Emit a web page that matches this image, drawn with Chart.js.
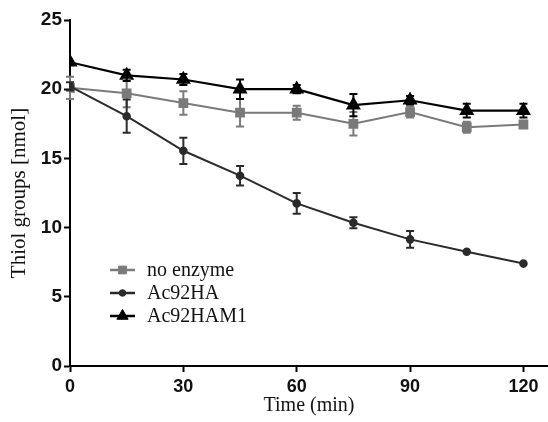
<!DOCTYPE html>
<html>
<head>
<meta charset="utf-8">
<script src="https://cdn.jsdelivr.net/npm/chart.js@4"></script>
<style>
html,body{margin:0;padding:0;background:#fff;}
#wrap{width:548px;height:422px;position:relative;}
</style>
</head>
<body>
<div id="wrap"><canvas id="c" width="548" height="422"></canvas></div>
<script>
const times = [0, 15, 30, 45, 60, 75, 90, 105, 120];
const noEnzyme = [20.1, 19.7, 19.0, 18.3, 18.3, 17.5, 18.35, 17.25, 17.45];
const noEnzymeErr = [0.8, 1.0, 0.85, 1.0, 0.5, 0.85, 0.4, 0.4, 0.2];
const ac92HA = [20.2, 18.05, 15.55, 13.75, 11.75, 10.35, 9.15, 8.25, 7.4];
const ac92HAErr = [0.3, 1.2, 0.95, 0.7, 0.75, 0.4, 0.6, 0.2, 0.1];
const ac92HAM1 = [21.95, 21.0, 20.7, 20.0, 20.0, 18.85, 19.2, 18.45, 18.45];
const ac92HAM1Err = [0.2, 0.4, 0.4, 0.7, 0.3, 0.8, 0.3, 0.5, 0.5];
const xTicks = [0, 30, 60, 90, 120];
const yTicks = [0, 5, 10, 15, 20, 25];
const seriesNames = ['no enzyme', 'Ac92HA', 'Ac92HAM1'];

const GRAY = '#7a7a7a', DARK = '#2b2b2b', BLACK = '#000000';

function pts(vals){ return times.map((t,i)=>({x:t, y:vals[i]})); }

const errorBars = {
  id: 'errorBars',
  afterDatasetsDraw(chart){
    const ctx = chart.ctx, xs = chart.scales.x, ys = chart.scales.y;
    chart.data.datasets.forEach((ds) => {
      const errs = ds.errors; if (!errs) return;
      ctx.save();
      ctx.strokeStyle = ds.borderColor; ctx.lineWidth = 2;
      ds.data.forEach((p, i) => {
        const e = errs[i]; if (!e || e < 0.25) return;
        const x = xs.getPixelForValue(p.x);
        const y1 = ys.getPixelForValue(p.y + e), y2 = ys.getPixelForValue(p.y - e);
        ctx.beginPath();
        ctx.moveTo(x, y1); ctx.lineTo(x, y2);
        ctx.moveTo(x-4, y1); ctx.lineTo(x+4, y1);
        ctx.moveTo(x-4, y2); ctx.lineTo(x+4, y2);
        ctx.stroke();
      });
      ctx.restore();
    });
  }
};

const customLegend = {
  id: 'customLegend',
  afterDraw(chart){
    const ctx = chart.ctx;
    const x0 = 110, x1 = 135, tx = 147;
    const rows = [270, 293, 316];
    chart.data.datasets.forEach((ds, i) => {
      const y = rows[i];
      ctx.save();
      ctx.strokeStyle = ds.borderColor; ctx.lineWidth = 2.5;
      ctx.beginPath(); ctx.moveTo(x0, y); ctx.lineTo(x1, y); ctx.stroke();
      ctx.fillStyle = ds.pointBackgroundColor; ctx.strokeStyle = ds.pointBorderColor; ctx.lineWidth = 1;
      Chart.helpers.drawPoint(ctx, {pointStyle: ds.pointStyle, radius: ds.pointRadius, borderWidth: 1}, (x0+x1)/2, y);
      ctx.fillStyle = '#111';
      ctx.font = '20px "Liberation Serif"';
      ctx.textBaseline = 'middle';
      ctx.fillText(seriesNames[i], tx, y + 1);
      ctx.restore();
    });
  }
};

new Chart(document.getElementById('c'), {
  type: 'line',
  data: {
    datasets: [
      {label: seriesNames[0], data: pts(noEnzyme), errors: noEnzymeErr, borderColor: GRAY, backgroundColor: GRAY,
       pointBackgroundColor: GRAY, pointBorderColor: GRAY, pointStyle: 'rect', pointRadius: 5.5, borderWidth: 2, order: 3},
      {label: seriesNames[1], data: pts(ac92HA), errors: ac92HAErr, borderColor: DARK, backgroundColor: DARK,
       pointBackgroundColor: DARK, pointBorderColor: DARK, pointStyle: 'circle', pointRadius: 3.3, borderWidth: 2, order: 2},
      {label: seriesNames[2], data: pts(ac92HAM1), errors: ac92HAM1Err, borderColor: BLACK, backgroundColor: BLACK,
       pointBackgroundColor: BLACK, pointBorderColor: BLACK, pointStyle: 'triangle', pointRadius: 6.5, borderWidth: 2.2, order: 1}
    ]
  },
  options: {
    responsive: false,
    animation: false,
    layout: {autoPadding: false, padding: {top: 20, right: 0, left: 0, bottom: 0}},
    plugins: {legend: {display: false}, tooltip: {enabled: false}},
    elements: {line: {tension: 0}},
    scales: {
      x: {
        type: 'linear', min: 0, max: 126.5,
        afterBuildTicks: s => { s.ticks = xTicks.map(v => ({value: v})); },
        afterFit: s => { s.height = 56; s.paddingLeft = 0; s.paddingRight = 0; },
        border: {color: '#000', width: 2},
        grid: {display: true, drawOnChartArea: false, drawTicks: true, tickLength: 6, tickWidth: 2, tickColor: '#000'},
        ticks: {color: '#111', font: {family: '"Liberation Sans"', weight: 'bold', size: 18}, padding: 4, maxRotation: 0},
        title: {display: true, text: 'Time (min)', color: '#111', font: {family: '"Liberation Serif"', size: 20}, padding: {top: 0, bottom: 4}}
      },
      y: {
        type: 'linear', min: 0, max: 25,
        afterBuildTicks: s => { s.ticks = yTicks.map(v => ({value: v})); },
        afterFit: s => { s.width = 70; s.paddingTop = 0; s.paddingBottom = 0; },
        border: {color: '#000', width: 2},
        grid: {display: true, drawOnChartArea: false, drawTicks: true, tickLength: 6, tickWidth: 2, tickColor: '#000'},
        ticks: {color: '#111', font: {family: '"Liberation Sans"', weight: 'bold', size: 19}, padding: 2},
        title: {display: true, text: 'Thiol groups [nmol]', color: '#111', font: {family: '"Liberation Serif"', size: 21}, padding: {top: 7, bottom: 0}}
      }
    }
  },
  plugins: [errorBars, customLegend]
});
</script>
</body>
</html>
